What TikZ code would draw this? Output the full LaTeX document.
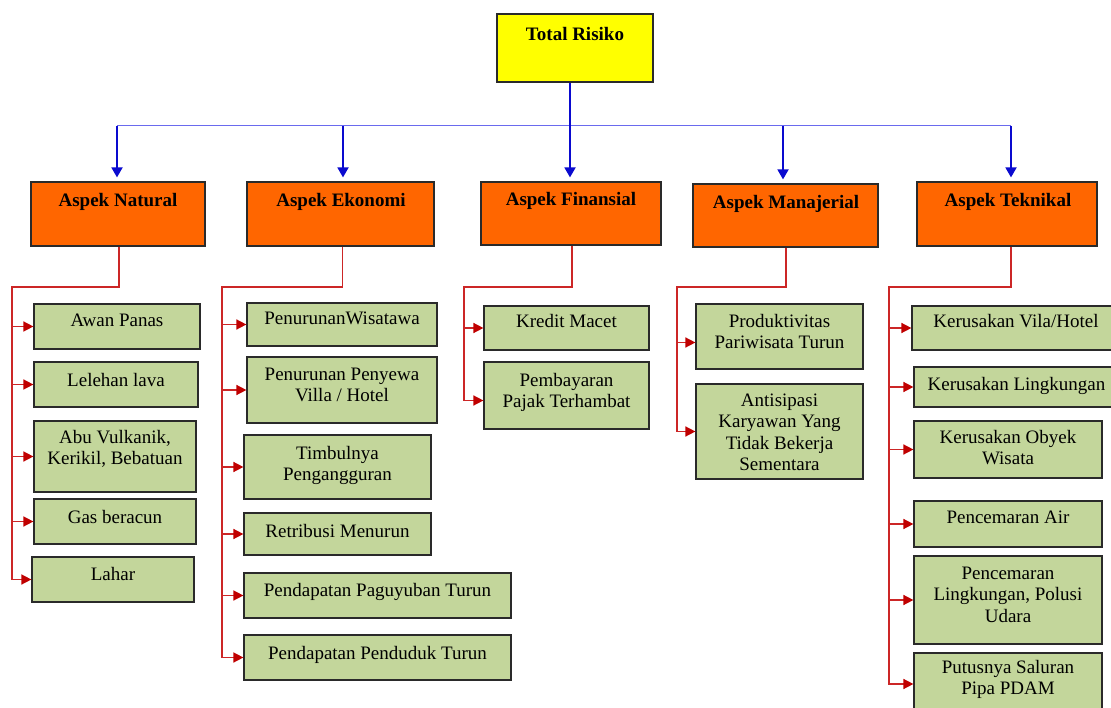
\documentclass[tikz,border=0pt]{standalone}
\usepackage{fontspec}
\setmainfont{Liberation Serif}
\usetikzlibrary{arrows.meta,fit}
\definecolor{orangebox}{HTML}{FF6600}
\definecolor{greenbox}{HTML}{C3D69B}
\definecolor{yellowbox}{HTML}{FFFF00}
\definecolor{bluearr}{HTML}{0A0ACF}
\definecolor{bluehl}{HTML}{6A6AEE}
\definecolor{redline}{HTML}{CC2626}
\definecolor{redarr}{HTML}{C00000}
\definecolor{boxline}{HTML}{2A2A2A}
\tikzset{
  ybox/.style={draw=boxline,line width=1.2pt,fill=yellowbox,inner sep=0pt},
  obox/.style={draw=boxline,line width=1.2pt,fill=orangebox,inner sep=0pt},
  gbox/.style={draw=boxline,line width=1.2pt,fill=greenbox,inner sep=0pt},
  btxt/.style={anchor=north,inner sep=0pt,align=center,font=\fontsize{19}{21.5}\selectfont\bfseries},
  gtxt/.style={anchor=north,inner sep=0pt,align=center,font=\fontsize{19}{21.3}\selectfont},
  hline/.style={draw=bluehl,line width=1pt},
  barr/.style={draw=bluearr,line width=1.8pt,-{Triangle[length=10pt,width=11pt]},shorten >=4pt},
  rarr/.style={draw=redline,line width=1.5pt,-{Triangle[length=10pt,width=10pt,color=redarr]}},
}
\begin{document}
\begin{tikzpicture}[x=1pt,y=-1pt]
\useasboundingbox (0,0) rectangle (1111,708);
\clip (0,0) rectangle (1111,708);
\fill[white] (0,0) rectangle (1111,708);

% top
\node[ybox,fit={(497,14) (653,82)}] (tr) {};
\node[btxt] (trT) at (575,27) {Total Risiko};

% aspects
\node[obox,fit={(31,182) (205,246)}] (nat) {};
\node[btxt] (natT) at (118,193) {Aspek Natural};
\node[obox,fit={(247,182) (434,246)}] (eko) {};
\node[btxt] (ekoT) at (341,193) {Aspek Ekonomi};
\node[obox,fit={(481,182) (661,245)}] (fin) {};
\node[btxt] (finT) at (571,192) {Aspek Finansial};
\node[obox,fit={(693,184) (878,247)}] (man) {};
\node[btxt] (manT) at (786,195) {Aspek Manajerial};
\node[obox,fit={(917,182) (1097,246)}] (tek) {};
\node[btxt] (tekT) at (1008,193) {Aspek Teknikal};

% natural items
\node[gbox,fit={(34,304) (200,349)}] (aw) {};
\node[gtxt] at (117,313.5) {Awan Panas};
\node[gbox,fit={(34,362) (198,407)}] (ll) {};
\node[gtxt] at (116,373) {Lelehan lava};
\node[gbox,fit={(34,421) (196,492)}] (ab) {};
\node[gtxt] at (115,430) {Abu Vulkanik,\\ Kerikil, Bebatuan};
\node[gbox,fit={(34,499) (196,544)}] (gb) {};
\node[gtxt] at (115,509.7) {Gas beracun};
\node[gbox,fit={(32,557) (194,602)}] (lh) {};
\node[gtxt] at (113,567) {Lahar};

% ekonomi items
\node[gbox,fit={(247,303) (437,346)}] (pw) {};
\node[gtxt] at (342,312) {PenurunanWisatawa};
\node[gbox,fit={(247,357) (437,423)}] (pp) {};
\node[gtxt] at (342,367.7) {Penurunan Penyewa\\ Villa / Hotel};
\node[gbox,fit={(244,435) (431,499)}] (tp) {};
\node[gtxt] at (337.5,446) {Timbulnya\\ Pengangguran};
\node[gbox,fit={(244,513) (431,555)}] (rm) {};
\node[gtxt] at (337.5,523.7) {Retribusi Menurun};
\node[gbox,fit={(244,573) (511,618)}] (pg) {};
\node[gtxt] at (377.5,582.7) {Pendapatan Paguyuban Turun};
\node[gbox,fit={(244,635) (511,680)}] (pd) {};
\node[gtxt] at (377.5,646) {Pendapatan Penduduk Turun};

% finansial items
\node[gbox,fit={(484,306) (649,350)}] (km) {};
\node[gtxt] at (566.5,313.7) {Kredit Macet};
\node[gbox,fit={(484,362) (649,429)}] (pj) {};
\node[gtxt] at (566.5,372.7) {Pembayaran\\ Pajak Terhambat};

% manajerial items
\node[gbox,fit={(696,304) (863,369)}] (pr) {};
\node[gtxt] at (779.5,313.7) {Produktivitas\\ Pariwisata Turun};
\node[gbox,fit={(696,384) (863,479)}] (an) {};
\node[gtxt] at (779.5,393.7) {Antisipasi\\ Karyawan Yang\\ Tidak Bekerja\\ Sementara};

% teknikal items
\node[gbox,fit={(912,306) (1120,350)}] (kv) {};
\node[gtxt] at (1016,313.7) {Kerusakan Vila/Hotel};
\node[gbox,fit={(914,367) (1120,407)}] (kl) {};
\node[gtxt] at (1016.5,377) {Kerusakan Lingkungan};
\node[gbox,fit={(914,421) (1102,478)}] (ko) {};
\node[gtxt] at (1008,430) {Kerusakan Obyek\\ Wisata};
\node[gbox,fit={(914,501) (1102,547)}] (pa) {};
\node[gtxt] at (1008,511) {Pencemaran Air};
\node[gbox,fit={(914,556) (1102,644)}] (pl) {};
\node[gtxt] at (1008,567) {Pencemaran\\ Lingkungan, Polusi\\ Udara};
\node[gbox,fit={(914,653) (1102,715)}] (pu) {};
\node[gtxt] at (1008,660) {Putusnya Saluran\\ Pipa PDAM};

% blue connectors
\coordinate (b1) at (117,126);
\coordinate (b2) at (343,126);
\coordinate (b4) at (783,126);
\coordinate (b5) at (1011,126);
\draw[hline] (b1) -- (b5);
\draw[barr] ([xshift=-5pt]tr.south) -- ([xshift=-5pt]tr.south |- fin.north);
\draw[barr] (b1) -- (b1 |- nat.north);
\draw[barr] (b2) -- (b2 |- eko.north);
\draw[barr] (b4) -- (b4 |- man.north);
\draw[barr] (b5) -- (b5 |- tek.north);

% red connectors
\coordinate (natK) at (12,287);
\draw[rarr] ([xshift=1pt]nat.south) |- (natK) |- (lh.west);
\foreach \n in {aw,ll,ab,gb} \draw[rarr] (natK |- \n.west) -- (\n.west);

\coordinate (ekoK) at (222,287);
\draw[rarr] ([xshift=2pt]eko.south) |- (ekoK) |- (pd.west);
\foreach \n in {pw,pp,tp,rm,pg} \draw[rarr] (ekoK |- \n.west) -- (\n.west);

\coordinate (finK) at (464,287);
\draw[rarr] ([xshift=1pt]fin.south) |- (finK) |- ([yshift=-5pt]pj.west);
\draw[rarr] (finK |- km.west) -- (km.west);

\coordinate (manK) at (677,287);
\draw[rarr] ([xshift=0.5pt]man.south) |- (manK) |- (an.west);
\draw[rarr] ([yshift=-6pt]manK |- pr.west) -- ([yshift=-6pt]pr.west);

\coordinate (tekK) at (889,287);
\draw[rarr] ([xshift=4pt]tek.south) |- (tekK) |- (pu.west);
\foreach \n in {kv,kl,ko,pa,pl} \draw[rarr] (tekK |- \n.west) -- (\n.west);
\end{tikzpicture}
\end{document}
